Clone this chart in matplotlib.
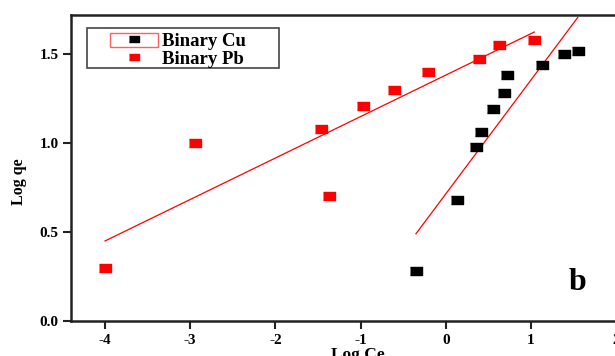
import numpy as np
import matplotlib
matplotlib.use("Agg")
import matplotlib.pyplot as plt
from matplotlib.patches import Rectangle
from matplotlib.lines import Line2D
from matplotlib.legend_handler import HandlerTuple

# Binary Pb (red) points
pb_x = [-4.00, -2.94, -1.46, -1.37, -0.97, -0.61, -0.21, 0.39, 0.62, 1.04]
pb_y = [0.30, 1.00, 1.08, 0.70, 1.21, 1.30, 1.40, 1.47, 1.55, 1.58]

# Binary Cu (black) points
cu_x = [-0.35, 0.13, 0.36, 0.42, 0.56, 0.69, 0.72, 1.13, 1.39, 1.55]
cu_y = [0.28, 0.68, 0.98, 1.06, 1.19, 1.28, 1.38, 1.44, 1.50, 1.52]

# linear fits (slope, intercept)
pb_fit = (0.233, 1.382)
cu_fit = (0.640, 0.714)

x_ticks = [-4, -3, -2, -1, 0, 1, 2]
y_ticks = [0.0, 0.5, 1.0, 1.5]

plt.rcParams['font.family'] = 'Liberation Serif'
plt.rcParams['font.weight'] = 'bold'

W, H = 615, 356
fig = plt.figure(figsize=(W / 100, H / 100), dpi=100)
ax = fig.add_axes([0.1154, 0.0983, 0.932, 0.8596])

# flat rectangular markers (about 11 x 7 px)
rect = [(-1.57, -1), (1.57, -1), (1.57, 1), (-1.57, 1)]

ax.plot(cu_x, cu_y, linestyle='none', marker=rect, markersize=8,
        color='black', zorder=3)
ax.plot(pb_x, pb_y, linestyle='none', marker=rect, markersize=8,
        color='red', zorder=3)

xs = np.array([min(pb_x), max(pb_x)])
ax.plot(xs, pb_fit[0] * xs + pb_fit[1], color='red', lw=0.9)
xs = np.array([min(cu_x), max(cu_x)])
ax.plot(xs, cu_fit[0] * xs + cu_fit[1], color='red', lw=0.9)

ax.set_xlim(-4.4, 2.33)
ax.set_ylim(0, 1.72)
ax.set_xticks(x_ticks)
ax.set_yticks(y_ticks)
ax.set_xticklabels([str(t) for t in x_ticks], fontsize=11, fontweight='bold')
ax.set_yticklabels(['%.1f' % t for t in y_ticks], fontsize=11,
                   fontweight='bold')
ax.tick_params(direction='out', length=6, width=1.5, pad=3, color='#222222')
for s in ax.spines.values():
    s.set_linewidth(1.8)
    s.set_color('#222222')

ax.set_xlabel('Log Ce', fontsize=12.5, fontweight='bold', labelpad=0)
ax.set_ylabel('Log qe', fontsize=11.5, fontweight='bold')
ax.yaxis.set_label_coords(-0.077, 0.454)

ax.text(1.55, 0.215, 'b', fontsize=23, fontweight='bold',
        ha='center', va='center')

# legend outer box, drawn by hand (Origin style, wide right margin)
box = Rectangle((87 / W, 1 - 68 / H), 192 / W, 40 / H,
                transform=fig.transFigure, facecolor='white',
                edgecolor='#444444', lw=1.2, zorder=5)
ax.add_artist(box)

# red frame around the Cu handle
frame = Rectangle((0, 0), 1, 1, facecolor='white', edgecolor='#ff6060', lw=1)
cu_h = Line2D([], [], linestyle='none', marker=rect, markersize=7, color='black')
pb_h = Line2D([], [], linestyle='none', marker=rect, markersize=7, color='red')
leg = ax.legend([(frame, cu_h), pb_h], ['Binary Cu', 'Binary Pb'],
                handler_map={tuple: HandlerTuple(ndivide=1)},
                loc='upper left', bbox_to_anchor=(110 / W, 1 - 32.5 / H),
                bbox_transform=fig.transFigure,
                prop={'weight': 'bold', 'size': 13.5},
                frameon=False, borderpad=0, labelspacing=0.0,
                handlelength=2.56, handleheight=0.82, handletextpad=0.22,
                borderaxespad=0)
leg.set_zorder(6)

fig.savefig('out.png', dpi=100)
